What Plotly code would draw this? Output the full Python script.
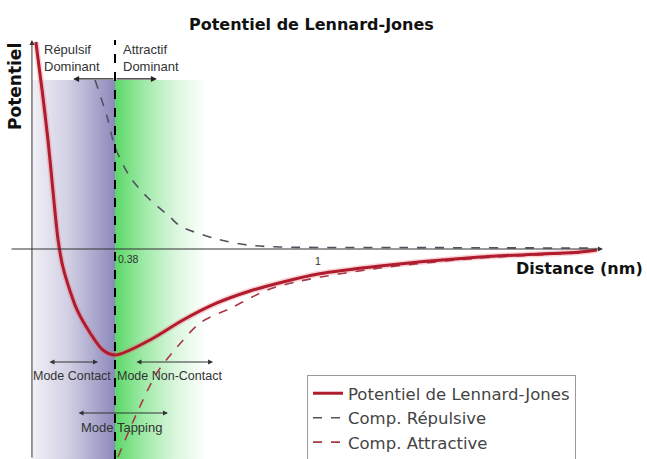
import plotly.graph_objects as go

# ---- data (distance in nm, potential in units of well depth) ----
lj_x = [0.138, 0.157, 0.175, 0.190, 0.206, 0.220, 0.243, 0.264, 0.304, 0.343, 0.380,
        0.487, 0.588, 0.692, 0.793, 0.894, 1.001, 1.190, 1.496, 1.802, 1.854]
lj_y = [1.953, 1.500, 1.028, 0.557, 0.085, -0.160, -0.400, -0.575, -0.792, -0.953, -1.000,
        -0.858, -0.670, -0.509, -0.396, -0.311, -0.236, -0.160, -0.075, -0.028, -0.009]

rep_x = [0.319, 0.356, 0.380, 0.426, 0.478, 0.548, 0.579, 0.680, 0.784, 0.885, 1.252, 1.833]
rep_y = [1.594, 1.245, 0.962, 0.679, 0.491, 0.302, 0.217, 0.104, 0.038, 0.019, 0.014, 0.009]

att_x = [0.389, 0.447, 0.508, 0.570, 0.640, 0.741, 0.845, 0.946, 1.190, 1.496, 1.802]
att_y = [-1.962, -1.547, -1.170, -0.925, -0.698, -0.547, -0.387, -0.302, -0.179, -0.085, -0.038]

r_eq = 0.38
tick_vals = [0.38, 1]
tick_text = ["0.38", "1"]
series_names = ["Potentiel de Lennard-Jones", "Comp. Répulsive", "Comp. Attractive"]

# ---- geometry ----
x_range = [0.0283, 2.007]
y_range = [-1.981, 2.349]
y_axis_x = 0.126
x_axis_start, x_axis_end = 0.059, 1.872
y_axis_top = 1.972
shade_top = 1.594
green_end = 0.660

FONT = "Arial, Liberation Sans, sans-serif"
WIDE = "DejaVu Sans, sans-serif"

fig = go.Figure()

# shaded regions with gradients
fig.add_trace(go.Scatter(
    x=[y_axis_x, r_eq, r_eq, y_axis_x, y_axis_x],
    y=[y_range[0], y_range[0], shade_top, shade_top, y_range[0]],
    mode="lines", line=dict(width=0), fill="toself",
    fillgradient=dict(type="horizontal",
                      colorscale=[[0, "#f1f0f6"], [0.45, "#d0cee3"], [1, "#8c89bb"]]),
    showlegend=False, hoverinfo="skip"))
fig.add_trace(go.Scatter(
    x=[r_eq, green_end, green_end, r_eq, r_eq],
    y=[y_range[0], y_range[0], shade_top, shade_top, y_range[0]],
    mode="lines", line=dict(width=0), fill="toself",
    fillgradient=dict(type="horizontal",
                      colorscale=[[0, "#5ad866"], [0.3, "#9ce9a4"], [0.65, "#d9f6dc"], [1, "#ffffff"]]),
    showlegend=False, hoverinfo="skip"))

# halo of LJ curve
fig.add_trace(go.Scatter(x=lj_x, y=lj_y, mode="lines",
                         line=dict(color="rgba(235,110,120,0.3)", width=6, shape="spline", smoothing=0.9),
                         showlegend=False, hoverinfo="skip"))
fig.add_trace(go.Scatter(x=rep_x, y=rep_y, mode="lines", name=series_names[1],
                         line=dict(color="#555060", width=1.6, dash="dash", shape="spline", smoothing=0.8)))
fig.add_trace(go.Scatter(x=att_x, y=att_y, mode="lines", name=series_names[2],
                         line=dict(color="#a83848", width=1.6, dash="dash", shape="spline", smoothing=0.8)))
fig.add_trace(go.Scatter(x=lj_x, y=lj_y, mode="lines", name=series_names[0],
                         line=dict(color="#b01c2e", width=3, shape="spline", smoothing=0.9)))

# vertical dashed line at r_eq
fig.add_shape(type="line", x0=r_eq, x1=r_eq, y0=y_range[0], y1=y_axis_top,
              line=dict(color="black", width=2, dash="dash"))

annotations = []
# axes arrows
annotations.append(dict(x=x_axis_end, y=0, ax=x_axis_start, ay=0, xref="x", yref="y",
                        axref="x", ayref="y", showarrow=True, arrowhead=2, arrowsize=1,
                        arrowwidth=1, arrowcolor="#333", text=""))
annotations.append(dict(x=y_axis_x, y=y_axis_top, ax=y_axis_x, ay=y_range[0], xref="x", yref="y",
                        axref="x", ayref="y", showarrow=True, arrowhead=2, arrowsize=1,
                        arrowwidth=1, arrowcolor="#333", text=""))
# ticks labels
annotations.append(dict(x=tick_vals[0], y=-0.09, xref="x", yref="y", text=tick_text[0],
                        showarrow=False, xanchor="left", yanchor="middle", xshift=1,
                        font=dict(size=10.5, color="#333", family=FONT)))
annotations.append(dict(x=tick_vals[1], y=-0.11, xref="x", yref="y", text=tick_text[1],
                        showarrow=False, xanchor="center", yanchor="middle",
                        font=dict(size=10.5, color="#333", family=FONT)))

# dominant arrows
arr_y = 1.604
annotations.append(dict(x=0.252, y=arr_y, ax=r_eq, ay=arr_y, xref="x", yref="y", axref="x", ayref="y",
                        showarrow=True, arrowhead=2, arrowwidth=1.2, arrowcolor="#222", text=""))
annotations.append(dict(x=0.508, y=arr_y, ax=r_eq, ay=arr_y, xref="x", yref="y", axref="x", ayref="y",
                        showarrow=True, arrowhead=2, arrowwidth=1.2, arrowcolor="#222", text=""))
annotations.append(dict(x=0.157, y=1.80, xref="x", yref="y", text="Répulsif<br>Dominant",
                        showarrow=False, xanchor="left", yanchor="middle", align="left",
                        font=dict(size=13, color="#333", family=FONT)))
annotations.append(dict(x=0.398, y=1.80, xref="x", yref="y", text="Attractif<br>Dominant",
                        showarrow=False, xanchor="left", yanchor="middle", align="left",
                        font=dict(size=13, color="#333", family=FONT)))

# mode arrows (double headed)
def dbl(x0, x1, y):
    return dict(x=x1, y=y, ax=x0, ay=y, xref="x", yref="y", axref="x", ayref="y",
                showarrow=True, arrowhead=2, startarrowhead=2, arrowside="end+start",
                arrowwidth=1, arrowcolor="#333", text="")
annotations.append(dbl(0.175, 0.328, -1.066))
annotations.append(dbl(0.441, 0.680, -1.066))
annotations.append(dbl(0.264, 0.542, -1.547))
annotations.append(dict(x=0.2485, y=-1.20, xref="x", yref="y", text="Mode Contact", showarrow=False,
                        xanchor="center", yanchor="middle",
                        font=dict(size=12.5, color="#333", family=FONT)))
annotations.append(dict(x=0.548, y=-1.20, xref="x", yref="y", text="Mode Non-Contact", showarrow=False,
                        xanchor="center", yanchor="middle",
                        font=dict(size=12.5, color="#333", family=FONT)))
annotations.append(dict(x=0.401, y=-1.68, xref="x", yref="y", text="Mode Tapping", showarrow=False,
                        xanchor="center", yanchor="middle",
                        font=dict(size=13, color="#333", family=FONT)))

# titles
annotations.append(dict(x=311 / 647, y=1 - 25 / 459, xref="paper", yref="paper",
                        text="<b>Potentiel de Lennard-Jones</b>", showarrow=False,
                        xanchor="center", yanchor="middle",
                        font=dict(size=16, color="#111", family=WIDE)))
annotations.append(dict(x=15 / 647, y=1 - 87 / 459, xref="paper", yref="paper",
                        text="<b>Potentiel</b>", textangle=-90, showarrow=False,
                        xanchor="center", yanchor="middle",
                        font=dict(size=17, color="#111", family=WIDE)))
annotations.append(dict(x=645 / 647, y=1 - 268 / 459, xref="paper", yref="paper",
                        text="<b>Distance (nm)</b>", showarrow=False,
                        xanchor="right", yanchor="middle",
                        font=dict(size=16, color="#111", family=WIDE)))

fig.update_layout(
    width=647, height=459,
    margin=dict(l=0, r=0, t=0, b=0, autoexpand=False),
    paper_bgcolor="white", plot_bgcolor="white",
    xaxis=dict(range=x_range, visible=False, fixedrange=True),
    yaxis=dict(range=y_range, visible=False, fixedrange=True),
    annotations=annotations,
    legend=dict(x=307 / 647, y=1 - 375 / 459, xanchor="left", yanchor="top",
                bordercolor="#999", borderwidth=1, bgcolor="white",
                font=dict(size=16.5, color="#444", family=WIDE),
                traceorder="normal", tracegroupgap=0, itemwidth=30),
    showlegend=True,
)
# legend order: LJ, repulsive, attractive
fig.data[5].legendrank = 1
fig.data[3].legendrank = 2
fig.data[4].legendrank = 3

fig.write_html("out.html", config={"displayModeBar": False},
               post_script="document.body.style.margin='0';document.body.style.padding='0';")
